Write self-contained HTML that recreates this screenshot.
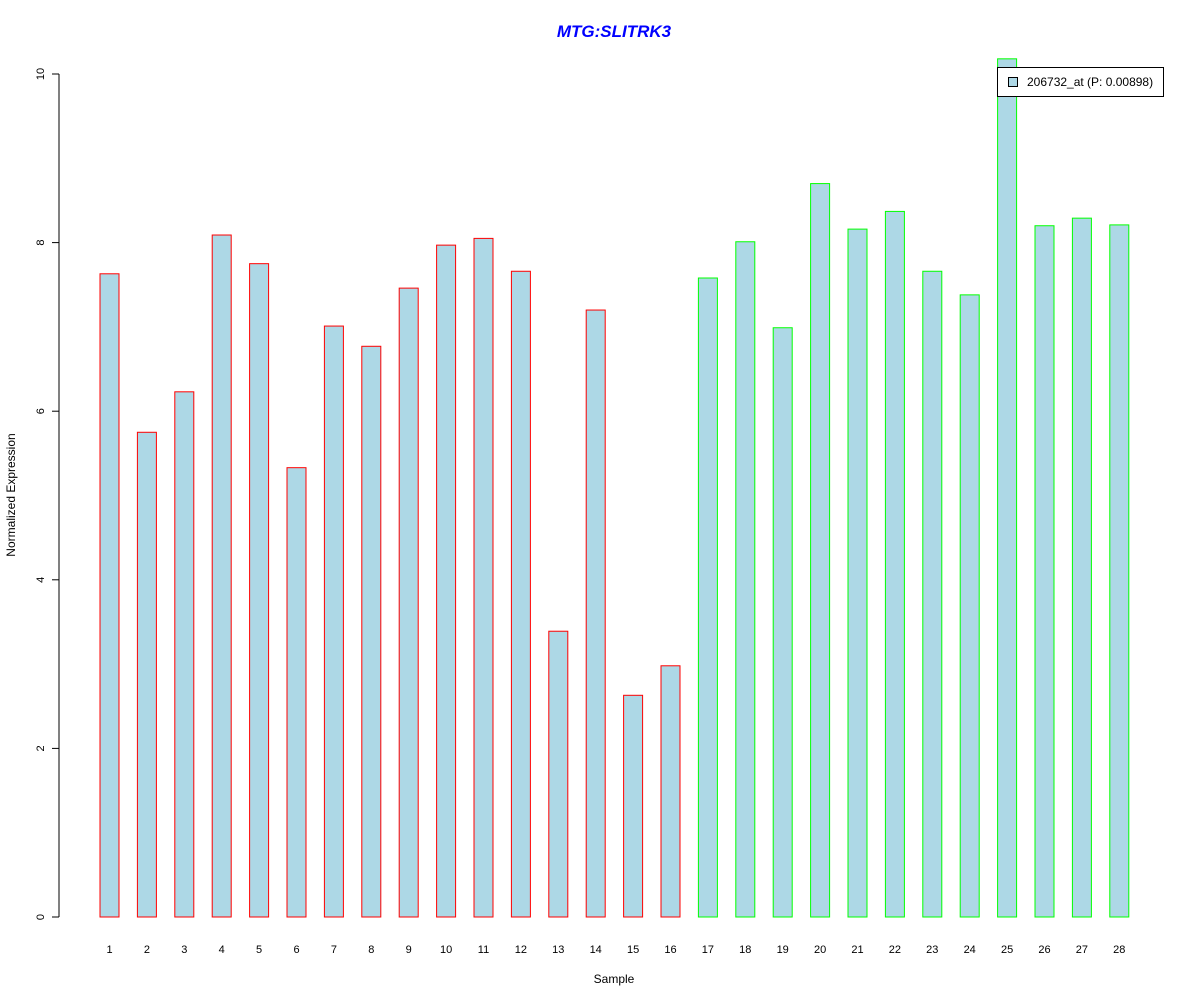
<!DOCTYPE html>
<html><head><meta charset="utf-8"><style>body{margin:0;background:#fff}svg{display:block;font-family:"Liberation Sans",Arial,sans-serif}</style></head>
<body>
<svg id="chart" width="1200" height="1000" xmlns="http://www.w3.org/2000/svg">
<rect width="1200" height="1000" fill="#fff"/>
<text x="614" y="37" text-anchor="middle" font-size="17" font-weight="bold" font-style="italic" fill="#0000ff">MTG:SLITRK3</text>
<text x="614" y="983" text-anchor="middle" font-size="12">Sample</text>
<text transform="translate(15,495) rotate(-90)" text-anchor="middle" font-size="12">Normalized Expression</text>
<line x1="59" y1="74" x2="59" y2="917" stroke="#000"/>
<g id="yticks"></g><g id="bars"></g><g id="xlabels"></g>
<g>
<rect x="997.5" y="67.5" width="166" height="29" fill="#fff" stroke="#000"/>
<rect x="1008.5" y="77.5" width="9" height="9" fill="#add8e6" stroke="#000"/>
<text x="1027" y="86" font-size="12">206732_at (P: 0.00898)</text>
</g>
</svg>
<script>
const categories=["1","2","3","4","5","6","7","8","9","10","11","12","13","14","15","16","17","18","19","20","21","22","23","24","25","26","27","28"];
const values=[7.63,5.75,6.23,8.09,7.75,5.33,7.01,6.77,7.46,7.97,8.05,7.66,3.39,7.20,2.63,2.98,7.58,8.01,6.99,8.70,8.16,8.37,7.66,7.38,10.18,8.20,8.29,8.21];
const groups=[0,0,0,0,0,0,0,0,0,0,0,0,0,0,0,0,1,1,1,1,1,1,1,1,1,1,1,1];
const yTicks=[0,2,4,6,8,10];
const NS="http://www.w3.org/2000/svg";
const y=v=>917-v*84.3;
const xc=i=>109.5+i*37.4;
const yt=document.getElementById('yticks');
yTicks.forEach(t=>{
 const l=document.createElementNS(NS,'line');
 
 
 l.setAttribute('x1',52);l.setAttribute('x2',59);l.setAttribute('y1',y(t));l.setAttribute('y2',y(t));l.setAttribute('stroke','#000');yt.appendChild(l);
 const tx=document.createElementNS(NS,'text');
 
 
 tx.setAttribute('transform',`translate(44,${y(t)}) rotate(-90)`);tx.setAttribute('text-anchor','middle');tx.setAttribute('font-size','11');tx.textContent=t;yt.appendChild(tx);
});
const bg=document.getElementById('bars'),xl=document.getElementById('xlabels');
values.forEach((v,i)=>{
 const r=document.createElementNS(NS,'rect');
 
 
 r.setAttribute('x',xc(i)-9.5);r.setAttribute('width',19);r.setAttribute('y',y(v));r.setAttribute('height',v*84.3);
 r.setAttribute('fill','#add8e6');r.setAttribute('stroke',groups[i]?'#00ff00':'#ff0000');bg.appendChild(r);
 const t=document.createElementNS(NS,'text');
 
 
 t.setAttribute('x',xc(i));t.setAttribute('y',953);t.setAttribute('text-anchor','middle');t.setAttribute('font-size','11');t.textContent=categories[i];xl.appendChild(t);
});
</script>
</body></html>
